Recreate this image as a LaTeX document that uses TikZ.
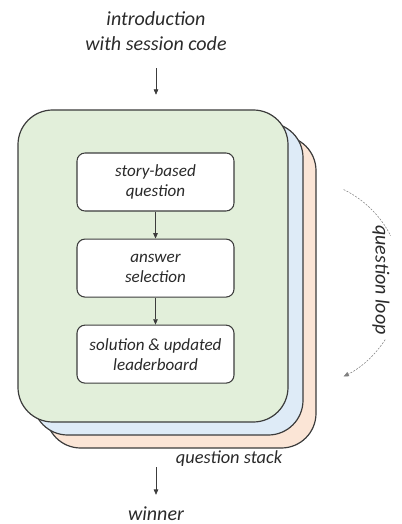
\documentclass[tikz,border=0pt]{standalone}
\usepackage{fontspec}
\setmainfont{Carlito}
\usetikzlibrary{positioning,arrows.meta}
\definecolor{cardgreen}{HTML}{E2EFDA}
\definecolor{cardblue}{HTML}{DEEBF7}
\definecolor{cardorange}{HTML}{FBE5D6}
\definecolor{inkgray}{HTML}{3C3C3C}
\definecolor{textgray}{HTML}{2A2A2A}
\begin{document}
\begin{tikzpicture}[
    x=0.75pt, y=-0.75pt,
    card/.style={rectangle, draw=inkgray, line width=0.9pt, rounded corners=26pt,
                 minimum width=202.5pt, minimum height=234pt},
    block/.style={rectangle, draw=inkgray, fill=white, line width=0.8pt, rounded corners=6pt,
                  minimum width=117.75pt, minimum height=43.5pt, align=center,
                  font=\fontsize{12.8}{15}\selectfont\itshape, text=textgray},
    label/.style={align=center, text=textgray, inner sep=1pt,
                  font=\fontsize{15}{18.75}\selectfont\itshape},
    arrow/.style={->, >={Triangle[length=4pt, width=3.4pt]}, line width=0.5pt, draw=inkgray},
    loopline/.style={line width=0.4pt, draw=gray, dash pattern=on 1.5pt off 1pt}
  ]
    \useasboundingbox (0,0) rectangle (402,524);

    % Anfang und Ende
    \node[label] (intro) at (156,31) {introduction\\with session code};
    \node[label] (winner) at (156,514) {winner};

    % Stapel der Fragen
    \node[card, fill=cardorange] (orange) at (181,292) {};
    \node[card, fill=cardblue] (blue) at (168,279) {};
    \node[card, fill=cardgreen] (green) at (153,266) {};
    \node[label, font=\fontsize{13.8}{16}\selectfont\itshape] (stack) at (229,459) {question stack};

    % Ablauf einer Frage
    \node[block] (story) at (155.5,182) {story-based\\question};
    \node[block, below=20.25pt of story] (answer) {answer\\selection};
    \node[block, below=20.25pt of answer] (solution) {solution \& updated\\leaderboard};

    % Verbindungen
    \draw[arrow, shorten <=12pt, shorten >=11pt] (intro.south) -- (intro.south |- green.north);
    \draw[arrow] (story) -- (answer);
    \draw[arrow] (answer) -- (solution);
    \draw[arrow, shorten <=14pt, shorten >=8pt] (winner.north |- orange.south) -- (winner.north);

    % Schleife
    \node[label, rotate=-90] (loop) at (381,280) {question loop};
    \draw[loopline] (343.6,189.5) arc[start angle=64, end angle=27, radius=78pt];
    \draw[loopline, arrow, draw=gray, line width=0.4pt] (385.2,339.6) arc[start angle=-33, end angle=-64, radius=78pt];
  \end{tikzpicture}
\end{document}
